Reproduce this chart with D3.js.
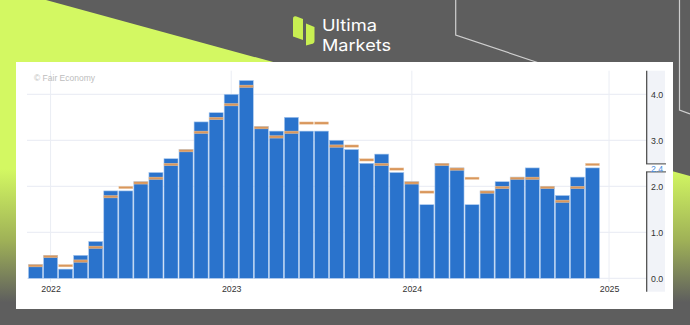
<!DOCTYPE html>
<html>
<head>
<meta charset="utf-8">
<script src="https://cdn.jsdelivr.net/npm/d3@7"></script>
<style>
html,body{margin:0;padding:0;background:#5e5e5e;}
svg{display:block;}
</style>
</head>
<body>
<svg id="c" width="690" height="325"></svg>
<script>
// ---- data: Tokyo Core CPI y/y (%) ----
const months = ["2021-11","2021-12",
  "2022-01","2022-02","2022-03","2022-04","2022-05","2022-06","2022-07","2022-08","2022-09","2022-10","2022-11","2022-12",
  "2023-01","2023-02","2023-03","2023-04","2023-05","2023-06","2023-07","2023-08","2023-09","2023-10","2023-11","2023-12",
  "2024-01","2024-02","2024-03","2024-04","2024-05","2024-06","2024-07","2024-08","2024-09","2024-10","2024-11","2024-12"];
const actual = [0.3,0.5,
  0.2,0.5,0.8,1.9,1.9,2.1,2.3,2.6,2.8,3.4,3.6,4.0,
  4.3,3.3,3.2,3.5,3.2,3.2,3.0,2.8,2.5,2.7,2.3,2.1,
  1.6,2.5,2.4,1.6,1.9,2.1,2.2,2.4,2.0,1.8,2.2,2.4];
const forecast = [0.3,0.5,
  0.3,0.4,0.7,1.8,2.0,2.1,2.2,2.5,2.8,3.2,3.5,3.8,
  4.2,3.3,3.1,3.2,3.4,3.4,2.9,2.9,2.6,2.5,2.4,2.1,
  1.9,2.5,2.4,2.2,1.9,2.0,2.2,2.2,2.0,1.7,2.0,2.5];
const yearLabels = ["2022","2023","2024","2025"];
const yearPos = [1.5, 13.5, 25.5, 38.6];   // in month-slot units
const yTicks = [0,1,2,3,4];

const svg = d3.select("#c");
const W = 690, H = 325;

// ---- background ----
const defs = svg.append("defs");
const g1 = defs.append("linearGradient").attr("id","lime")
  .attr("gradientUnits","userSpaceOnUse").attr("x1",0).attr("y1",0).attr("x2",0).attr("y2",H);
g1.append("stop").attr("offset",0.52).attr("stop-color","#d3f862");
g1.append("stop").attr("offset",0.74).attr("stop-color","#9fb157");
g1.append("stop").attr("offset",0.93).attr("stop-color","#5e5e5e");

svg.append("rect").attr("width",W).attr("height",H).attr("fill","#5e5e5e");
svg.append("path").attr("d","M0,0 L46,0 L690,176 L690,325 L0,325 Z").attr("fill","url(#lime)");
svg.append("path").attr("d","M455.7,0 L455.7,35 L560,70").attr("fill","none").attr("stroke","#cfcfcf").attr("stroke-width",1.2);
svg.append("path").attr("d","M679.5,0 L679.5,110 L690,114").attr("fill","none").attr("stroke","#cfcfcf").attr("stroke-width",1.2);

// ---- logo ----
const logo = svg.append("g");
logo.append("path").attr("d","M293,19 Q293,15.5 296.5,16.5 L303,19 L303,40 L293,36.5 Z").attr("fill","#c8ef52");
logo.append("path").attr("d","M306,23.5 L314.5,27 L314.5,41 Q314.5,43.5 311.5,44 L306,45.5 Z").attr("fill","#c8ef52");
logo.append("text").attr("x",322).attr("y",30.5).text("Ultima")
  .attr("font-family","Inter, Roboto, sans-serif").attr("font-size",16.5).attr("fill","#ffffff")
  .attr("textLength",55).attr("lengthAdjust","spacingAndGlyphs");
logo.append("text").attr("x",322).attr("y",50.5).text("Markets")
  .attr("font-family","Inter, Roboto, sans-serif").attr("font-size",16.5).attr("fill","#ffffff")
  .attr("textLength",69).attr("lengthAdjust","spacingAndGlyphs");

// ---- panel ----
svg.append("rect").attr("x",16).attr("y",62).attr("width",657).attr("height",247).attr("fill","#ffffff");

// ---- scales ----
const x = d3.scaleLinear().domain([0, months.length]).range([28, 600]);
const y = d3.scaleLinear().domain([0, 4.5]).range([278.3, 71.3]);
const slot = x(1) - x(0);

// gridlines
const grid = svg.append("g");
grid.selectAll("line.h").data(yTicks).join("line")
  .attr("x1",27).attr("x2",647).attr("y1",d=>y(d)).attr("y2",d=>y(d))
  .attr("stroke","#eceef5").attr("stroke-width",1.2);
grid.selectAll("line.v").data(yearPos).join("line")
  .attr("x1",d=>x(d)).attr("x2",d=>x(d)).attr("y1",70.7).attr("y2",282)
  .attr("stroke","#eaedf4").attr("stroke-width",1);

// watermark
svg.append("text").attr("x",34).attr("y",80.5).text("© Fair Economy")
  .attr("font-family","Liberation Sans, Arial, sans-serif").attr("font-size",8.5).attr("fill","#bdbdbd");

// bars
svg.append("g").selectAll("rect").data(actual).join("rect")
  .attr("x",(d,i)=>x(i)+0.5).attr("width",slot-1)
  .attr("y",d=>y(d)).attr("height",d=>y(0)-y(d))
  .attr("fill","#2a73cc").attr("stroke","#a9c8ee").attr("stroke-width",0.6);

// forecast markers
svg.append("g").selectAll("rect").data(forecast).join("rect")
  .attr("x",(d,i)=>x(i)+0.5).attr("width",slot-1)
  .attr("y",d=>y(d)).attr("height",2.4)
  .attr("fill","#d9975c").attr("stroke","#f0d2b3").attr("stroke-width",0.4);

// x axis (years)
const xAxis = d3.axisBottom(x).tickValues(yearPos).tickFormat((d,i)=>yearLabels[i]).tickSize(0).tickPadding(5);
const gx = svg.append("g").attr("transform","translate(0,281)").call(xAxis);
gx.select(".domain").remove();
gx.selectAll("text").attr("font-family","Liberation Sans, Arial, sans-serif").attr("font-size",8.8).attr("fill","#333");

// right axis
svg.append("rect").attr("x",647).attr("y",70.7).attr("width",18).attr("height",221).attr("fill","#f1f3f8");
const yAxis = d3.axisRight(y).tickValues(yTicks).tickFormat(d3.format(".1f")).tickSize(0).tickPadding(4);
const gy = svg.append("g").attr("transform","translate(647,0)").call(yAxis);
gy.select(".domain").remove();
gy.selectAll("text").attr("font-family","Liberation Sans, Arial, sans-serif").attr("font-size",8.8).attr("fill","#333");
svg.append("line").attr("x1",646.7).attr("x2",646.7).attr("y1",70.7).attr("y2",291.7).attr("stroke","#444").attr("stroke-width",1.2);

// current value marker
const last = actual[actual.length-1];
const ly = y(last);
svg.append("rect").attr("x",646).attr("y",ly-4).attr("width",20).attr("height",8).attr("fill","#ffffff");
svg.append("line").attr("x1",646).attr("x2",666).attr("y1",ly-4).attr("y2",ly-4).attr("stroke","#444").attr("stroke-width",1);
svg.append("line").attr("x1",646).attr("x2",666).attr("y1",ly+4).attr("y2",ly+4).attr("stroke","#444").attr("stroke-width",1);
svg.append("text").attr("x",651).attr("y",ly+3.6).text(d3.format(".1f")(last))
  .attr("font-family","Liberation Sans, Arial, sans-serif").attr("font-size",8.8).attr("fill","#4a8fe0");
</script>
</body>
</html>
